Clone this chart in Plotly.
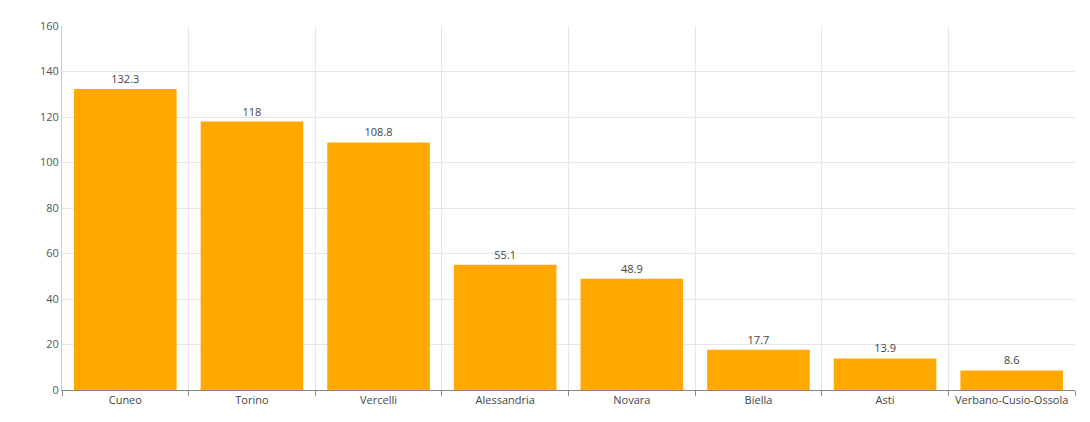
import plotly.graph_objects as go

categories = ["Cuneo", "Torino", "Vercelli", "Alessandria", "Novara", "Biella", "Asti", "Verbano-Cusio-Ossola"]
values = [132.3, 118, 108.8, 55.1, 48.9, 17.7, 13.9, 8.6]
labels = ["132.3", "118", "108.8", "55.1", "48.9", "17.7", "13.9", "8.6"]

fig = go.Figure(go.Bar(
    x=categories, y=values, text=labels, textposition="outside",
    marker=dict(color="#FFA800", line=dict(width=0)), cliponaxis=False,
    textfont=dict(size=11, color="#444"),
))
fig.update_layout(
    width=1090, height=422, margin=dict(l=54, r=23, t=18, b=40, autoexpand=False),
    plot_bgcolor="white", paper_bgcolor="white", bargap=0.19,
    font=dict(family="Open Sans", size=11, color="#555"), showlegend=False,
)
fig.update_xaxes(tickson="boundaries", showgrid=True, gridcolor="#e6e6e6", tickangle=0,
                 automargin=False, showline=True, linecolor="#888", ticks="outside",
                 ticklen=5, tickcolor="#888", tickfont=dict(size=11, color="#444"))
fig.update_yaxes(range=[0, 160], dtick=20, showgrid=True, gridcolor="#e6e6e6", automargin=False,
                 showline=True, linecolor="#ccc", zeroline=False, tickfont=dict(size=11, color="#555"))
fig.write_html("out.html")
